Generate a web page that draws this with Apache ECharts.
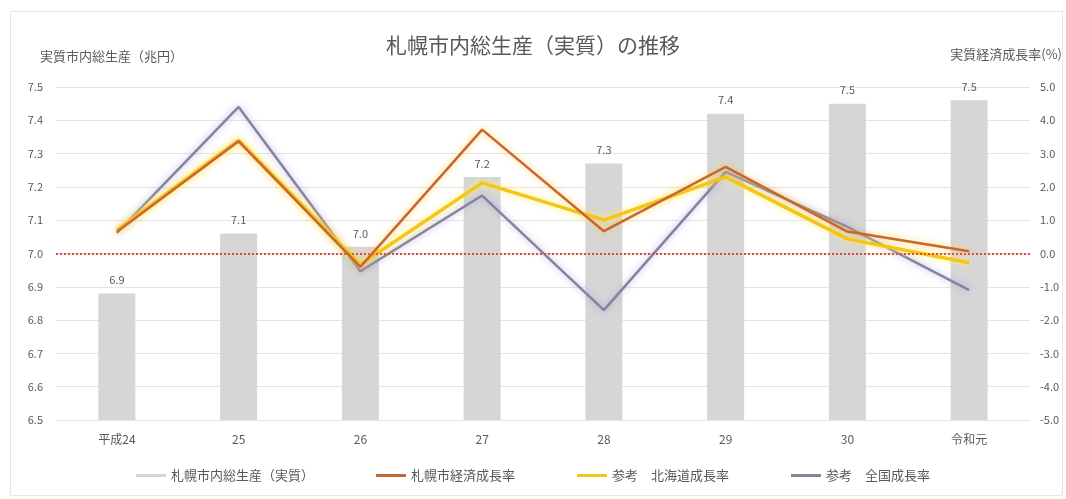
<!DOCTYPE html>
<html lang="ja">
<head>
<meta charset="utf-8">
<title>札幌市内総生産（実質）の推移</title>
<script src="https://cdn.jsdelivr.net/npm/echarts@6/dist/echarts.min.js"></script>
<style>
  html, body { margin: 0; padding: 0; background: #fff; }
  #chart { width: 1066px; height: 499px; }
</style>
</head>
<body>
<div id="chart"></div>
<script>
// 年度
const categories = ['平成24', '25', '26', '27', '28', '29', '30', '令和元'];
// 実質市内総生産（兆円）
const grossProduct = [6.88, 7.06, 7.02, 7.23, 7.27, 7.42, 7.45, 7.46];
// 実質経済成長率（%）
const sapporoGrowth = [0.65, 3.37, -0.40, 3.72, 0.67, 2.60, 0.66, 0.07];
const hokkaidoGrowth = [0.70, 3.40, -0.33, 2.12, 1.00, 2.30, 0.44, -0.28];
const nationalGrowth = [0.62, 4.40, -0.53, 1.74, -1.70, 2.45, 0.80, -1.10];

const seriesNames = ['札幌市内総生産（実質）', '札幌市経済成長率', '参考　北海道成長率', '参考　全国成長率'];

const FONT = '"Noto Sans CJK JP", "Noto Sans", sans-serif';
const TEXT = '#595959';

const chart = echarts.init(document.getElementById('chart'), null, { renderer: 'canvas' });

function growthLine(name, data, color, width, glow, z) {
  return {
    name: name,
    type: 'line',
    yAxisIndex: 1,
    data: data,
    symbol: 'none',
    z: z,
    lineStyle: { color: color, width: width, shadowBlur: 7, shadowColor: glow },
    itemStyle: { color: color }
  };
}

chart.setOption({
  animation: false,
  textStyle: { fontFamily: FONT },
  title: {
    text: '札幌市内総生産（実質）の推移',
    left: 'center',
    top: 30,
    textStyle: { fontFamily: FONT, fontSize: 21, fontWeight: 'normal', color: TEXT }
  },
  graphic: [
    {
      type: 'rect', left: 8, top: 9, silent: true,
      shape: { width: 1052, height: 484 },
      style: { fill: 'none', stroke: '#e6e6e6', lineWidth: 1 }
    },
    {
      type: 'text', left: 40, top: 50,
      style: { text: '実質市内総生産（兆円）', font: '13px ' + FONT, fill: TEXT }
    },
    {
      type: 'text', right: 4, top: 48,
      style: { text: '実質経済成長率(%)', font: '13px ' + FONT, fill: TEXT }
    }
  ],
  legend: {
    bottom: 12,
    left: 'center',
    itemGap: 62,
    itemWidth: 30,
    itemHeight: 3,
    textStyle: { fontFamily: FONT, fontSize: 13, color: TEXT },
    data: [
      { name: seriesNames[0], icon: 'rect', itemStyle: { color: '#d6d6d6' } },
      { name: seriesNames[1], icon: 'rect' },
      { name: seriesNames[2], icon: 'rect' },
      { name: seriesNames[3], icon: 'rect' }
    ]
  },
  grid: { left: 56, right: 36, top: 87, bottom: 79 },
  xAxis: {
    type: 'category',
    data: categories,
    axisLine: { show: true, lineStyle: { color: '#d9d9d9' } },
    axisTick: { show: false },
    axisLabel: { color: TEXT, fontSize: 12, margin: 13 }
  },
  yAxis: [
    {
      type: 'value',
      min: 6.5,
      max: 7.5,
      interval: 0.1,
      axisLine: { show: false },
      axisTick: { show: false },
      axisLabel: { color: TEXT, fontSize: 11, margin: 13, formatter: v => v.toFixed(1) },
      splitLine: { lineStyle: { color: '#e4e4e4', width: 1 } }
    },
    {
      type: 'value',
      min: -5,
      max: 5,
      interval: 1,
      axisLine: { show: false },
      axisTick: { show: false },
      axisLabel: { color: TEXT, fontSize: 11, margin: 10, formatter: v => v.toFixed(1) },
      splitLine: { show: false }
    }
  ],
  series: [
    {
      name: seriesNames[0],
      type: 'bar',
      data: grossProduct,
      barWidth: 37,
      z: 1,
      itemStyle: { color: '#d6d6d6' },
      label: {
        show: true,
        position: 'top',
        distance: 8,
        color: TEXT,
        fontSize: 11,
        formatter: p => p.value.toFixed(1)
      }
    },
    growthLine(seriesNames[3], nationalGrowth, '#85849a', 2.5, 'rgba(150,140,230,0.7)', 3),
    growthLine(seriesNames[2], hokkaidoGrowth, '#f5c518', 3.5, 'rgba(255,240,100,0.9)', 4),
    Object.assign(growthLine(seriesNames[1], sapporoGrowth, '#c8672f', 2.5, 'rgba(255,200,60,0.8)', 5), {
      markLine: {
        silent: true,
        symbol: 'none',
        label: { show: false },
        lineStyle: { color: '#e0473c', type: [2, 2], width: 2 },
        data: [{ yAxis: 0 }]
      }
    })
  ]
});
</script>
</body>
</html>
